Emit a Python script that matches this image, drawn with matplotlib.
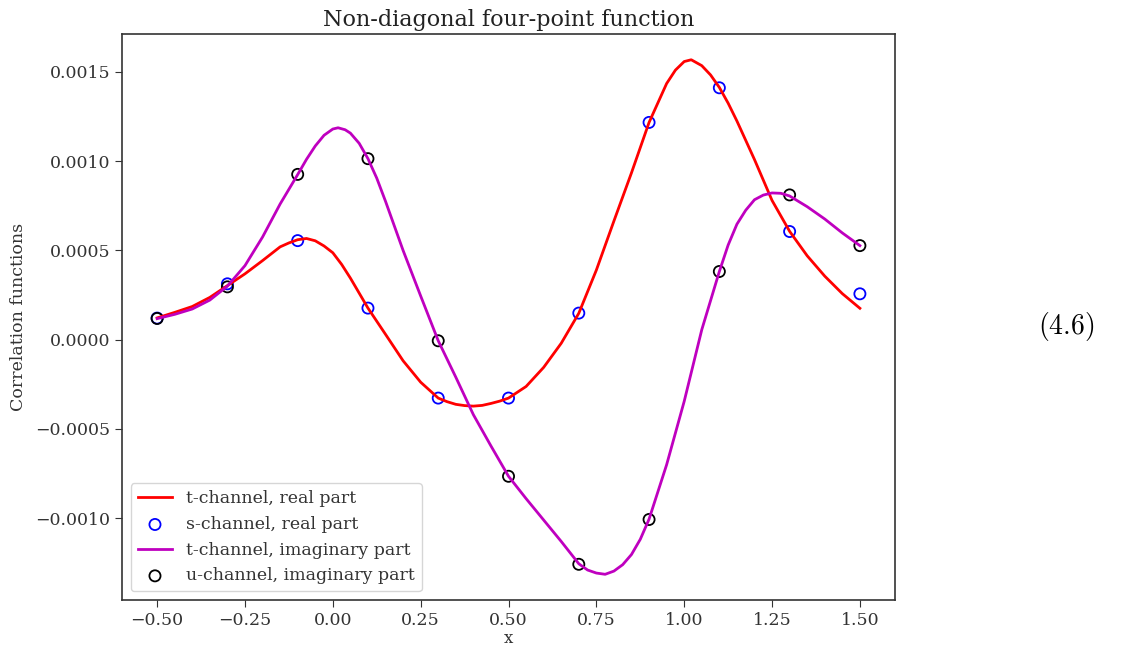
import numpy as np
import matplotlib
matplotlib.use('Agg')
import matplotlib.pyplot as plt

### DATA ###
# t-channel, real part (solid red curve)
x_t_real = [-0.5, -0.45, -0.4, -0.35, -0.3, -0.25, -0.2, -0.15, -0.125, -0.1,
            -0.075, -0.05, -0.025, 0.0, 0.025, 0.05, 0.1, 0.15, 0.2, 0.25,
            0.3, 0.325, 0.35, 0.375, 0.4, 0.425, 0.45, 0.475, 0.5, 0.55,
            0.6, 0.65, 0.7, 0.75, 0.8, 0.85, 0.9, 0.95, 0.975, 1.0,
            1.02, 1.05, 1.075, 1.1, 1.125, 1.15, 1.2, 1.25, 1.3, 1.35,
            1.4, 1.45, 1.5]
y_t_real = [0.000122, 0.000153, 0.000186, 0.000237, 0.000303, 0.000369, 0.000443, 0.000520, 0.000542, 0.000560,
            0.000567, 0.000554, 0.000525, 0.000487, 0.000422, 0.000345, 0.000177, 0.000030, -0.000118, -0.000238,
            -0.000327, -0.000347, -0.000362, -0.000369, -0.000372, -0.000368, -0.000357, -0.000344, -0.000327, -0.000262,
            -0.000155, -0.000020, 0.000148, 0.000390, 0.000665, 0.000935, 0.001217, 0.001435, 0.001510, 0.001558,
            0.001568, 0.001535, 0.001483, 0.001413, 0.001325, 0.001225, 0.001009, 0.000780, 0.000607, 0.000470,
            0.000356, 0.000258, 0.000176]

# t-channel, imaginary part (solid magenta curve)
x_t_imag = [-0.5, -0.45, -0.4, -0.35, -0.3, -0.25, -0.2, -0.15, -0.1, -0.075,
            -0.05, -0.025, 0.0, 0.015, 0.035, 0.05, 0.075, 0.1, 0.125, 0.15,
            0.2, 0.25, 0.3, 0.35, 0.4, 0.45, 0.5, 0.55, 0.6, 0.65,
            0.7, 0.725, 0.75, 0.775, 0.8, 0.825, 0.85, 0.875, 0.9, 0.95,
            1.0, 1.05, 1.1, 1.125, 1.15, 1.175, 1.2, 1.225, 1.25, 1.275,
            1.3, 1.35, 1.4, 1.45, 1.5]
y_t_imag = [0.000118, 0.000142, 0.000172, 0.000222, 0.000300, 0.000415, 0.000575, 0.000760, 0.000925, 0.001010,
            0.001085, 0.001145, 0.001180, 0.001187, 0.001176, 0.001157, 0.001100, 0.001014, 0.000905, 0.000775,
            0.000500, 0.000245, -0.000006, -0.000210, -0.000420, -0.000595, -0.000765, -0.000890, -0.001010, -0.001130,
            -0.001255, -0.001290, -0.001307, -0.001314, -0.001296, -0.001260, -0.001203, -0.001118, -0.001005, -0.000700,
            -0.000345, 0.000056, 0.000382, 0.000530, 0.000647, 0.000725, 0.000784, 0.000810, 0.000822, 0.000820,
            0.000805, 0.000745, 0.000676, 0.000598, 0.000527]

# sampled points
x_pts = [-0.5, -0.3, -0.1, 0.1, 0.3, 0.5, 0.7, 0.9, 1.1, 1.3, 1.5]
s_real = [0.000121, 0.000313, 0.000555, 0.000177, -0.000327, -0.000327,
          0.000149, 0.001217, 0.001411, 0.000606, 0.000257]
u_imag = [0.000119, 0.000296, 0.000926, 0.001014, -0.000006, -0.000765,
          -0.001258, -0.001007, 0.000382, 0.000811, 0.000527]

### PLOT ###
plt.rcParams['font.family'] = 'DejaVu Serif'
plt.rcParams['mathtext.fontset'] = 'cm'

fig = plt.figure(figsize=(11.38, 6.47), dpi=100)
ax = fig.add_axes([0.1072, 0.0726, 0.6793, 0.8748])

ax.plot(x_t_real, y_t_real, color='r', lw=2, label='t-channel, real part')
ax.scatter(x_pts, s_real, s=64, facecolors='none', edgecolors='b', lw=1.3,
           label='s-channel, real part')
ax.plot(x_t_imag, y_t_imag, color='m', lw=2, label='t-channel, imaginary part')
ax.scatter(x_pts, u_imag, s=64, facecolors='none', edgecolors='k', lw=1.3,
           label='u-channel, imaginary part')

ax.set_xticks([-0.5, -0.25, 0.0, 0.25, 0.5, 0.75, 1.0, 1.25, 1.5])
ax.tick_params(labelsize=12.5, length=5, color='#333333', labelcolor='#333333')
for sp in ax.spines.values():
    sp.set_color('#333333')
    sp.set_linewidth(1.2)

ax.set_title('Non-diagonal four-point function', fontsize=16, color='#222222')
ax.set_xlabel('x', fontsize=12, color='#333333', labelpad=0.5)
ax.set_ylabel('Correlation functions', fontsize=12.5, color='#333333', labelpad=6)
ax.legend(loc='lower left', fontsize=12.5, scatterpoints=1, labelcolor='#333333')

fig.text(0.937, 0.4946, r'$(4.6)$', fontsize=20, ha='center', va='center')

plt.savefig('out.png', dpi=100)
